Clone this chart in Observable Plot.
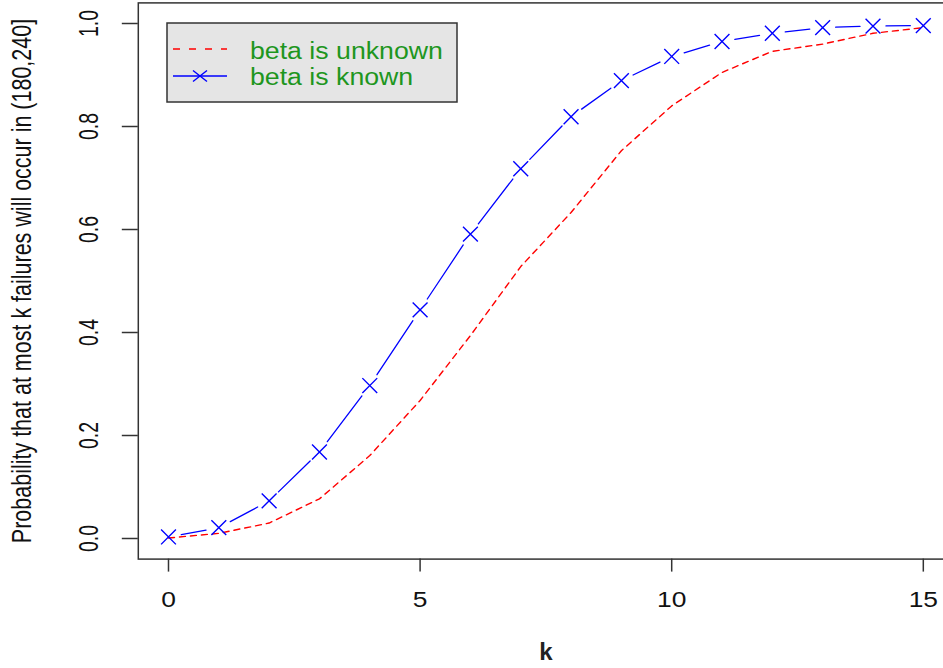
<!DOCTYPE html>
<html>
<head>
<meta charset="utf-8">
<script src="https://cdn.jsdelivr.net/npm/d3@7"></script>
<script src="https://cdn.jsdelivr.net/npm/@observablehq/plot@0.6"></script>
<style>
  html, body { margin: 0; padding: 0; background: #fff; overflow: hidden; }
</style>
</head>
<body>
<div id="chart"></div>
<script>
// ---- data ----
const k = [0, 1, 2, 3, 4, 5, 6, 7, 8, 9, 10, 11, 12, 13, 14, 15];
const betaKnown = [0.003, 0.021, 0.073, 0.168, 0.297, 0.444, 0.591, 0.718, 0.819, 0.889, 0.936, 0.965, 0.981, 0.992, 0.995, 0.996];
const betaUnknown = [0.001, 0.010, 0.030, 0.077, 0.161, 0.268, 0.394, 0.528, 0.633, 0.753, 0.840, 0.905, 0.946, 0.960, 0.981, 0.992];
const xTicks = [0, 5, 10, 15];
const yTicks = [0, 0.2, 0.4, 0.6, 0.8, 1.0];
const seriesNames = ["beta is unknown", "beta is known"];
const xTitle = "k";
const yTitle = "Probability that at most k failures will occur in (180,240]";

const known = k.map((x, i) => ({k: x, p: betaKnown[i]}));
const unknown = k.map((x, i) => ({k: x, p: betaUnknown[i]}));
const segs = known.slice(1).map((d, i) => ({k1: known[i].k, p1: known[i].p, k2: d.k, p2: d.p}));

const BLUE = "#0000ff", RED = "#ff0000", GREEN = "#1e961e", FRAME = "#333333";

const svg = Plot.plot({
  width: 943,
  height: 668,
  marginLeft: 137.8,
  marginRight: -10,
  marginTop: 2.4,
  marginBottom: 109.4,
  style: {fontFamily: "'Liberation Sans', Arial, sans-serif", fontSize: "22px", color: "#111", background: "#fff", overflow: "visible"},
  x: {domain: [-0.6, 15.6]},
  y: {domain: [-0.04, 1.04]},
  marks: [
    Plot.line(unknown, {x: "k", y: "p", stroke: RED, strokeWidth: 1.4, strokeDasharray: "6,5"}),
    Plot.arrow(segs, {x1: "k1", y1: "p1", x2: "k2", y2: "p2", stroke: BLUE, strokeWidth: 1.3, headLength: 0, insetStart: 13, insetEnd: 13}),
    Plot.dot(known, {x: "k", y: "p", symbol: "times", r: 6.8, stroke: BLUE, strokeWidth: 1.4}),
    Plot.axisX({ticks: xTicks, tickSize: 13, tickPadding: 19, stroke: FRAME, strokeWidth: 1.5, fontSize: 22, tickFormat: d3.format("d")}),
    Plot.axisY({ticks: yTicks, tickSize: 16, stroke: FRAME, strokeWidth: 1.5, text: null}),
    Plot.text(yTicks, {y: d => d, text: d => d3.format(".1f")(d), frameAnchor: "left", textAnchor: "middle", lineAnchor: "middle", dx: -50, rotate: -90, fontSize: 19.5, fill: "#111"}),
    Plot.text([yTitle], {text: d => d, frameAnchor: "left", textAnchor: "middle", lineAnchor: "middle", dx: -116.5, rotate: -90, fontSize: 21.5, fill: "#111"}),
    Plot.text([xTitle], {text: d => d, frameAnchor: "bottom", lineAnchor: "middle", dy: 93.4, fontSize: 24, fontWeight: "bold", fill: "#222"}),
    Plot.frame({stroke: FRAME, strokeWidth: 1.5})
  ]
});

document.getElementById("chart").appendChild(svg);

// stretch helper (local coordinates of each text); anchor "center" or "left"
function stretch(el, sx, sy, anchor = "center") {
  const b = el.getBBox();
  const cx = anchor === "left" ? b.x : b.x + b.width / 2, cy = b.y + b.height / 2;
  const t = el.getAttribute("transform") || "";
  el.setAttribute("transform", `${t} translate(${cx},${cy}) scale(${sx},${sy}) translate(${-cx},${-cy})`);
}
svg.querySelectorAll('g[aria-label="x-axis tick label"] text').forEach(el => stretch(el, 1.2, 1));
const textGroups = svg.querySelectorAll('g[aria-label="text"]');
textGroups[0].querySelectorAll("text").forEach(el => stretch(el, 1, 1.43));
textGroups[1].querySelectorAll("text").forEach(el => stretch(el, 1, 1.3));

// legend
const sel = d3.select(svg);
const lg = sel.append("g").attr("class", "legend");
lg.append("rect").attr("x", 167).attr("y", 23).attr("width", 290).attr("height", 79)
  .attr("fill", "#e5e5e5").attr("stroke", FRAME).attr("stroke-width", 1.5);
lg.append("line").attr("x1", 173).attr("x2", 227).attr("y1", 49).attr("y2", 49)
  .attr("stroke", RED).attr("stroke-width", 1.3).attr("stroke-dasharray", "7,9");
lg.append("line").attr("x1", 173).attr("x2", 227).attr("y1", 76).attr("y2", 76)
  .attr("stroke", BLUE).attr("stroke-width", 1.3);
lg.append("path").attr("d", "M193,70.5L207,81.5M193,81.5L207,70.5")
  .attr("stroke", BLUE).attr("stroke-width", 1.4).attr("fill", "none");
[59.5, 85.5].forEach((yb, i) => {
  const t = lg.append("text").attr("x", 250).attr("y", yb)
    .attr("fill", GREEN).attr("font-size", 24.5)
    .attr("text-anchor", "start")
    .attr("font-family", "'Liberation Sans', Arial, sans-serif")
    .text(seriesNames[i]);
  stretch(t.node(), 1.09, 1, "left");
});
</script>
</body>
</html>
